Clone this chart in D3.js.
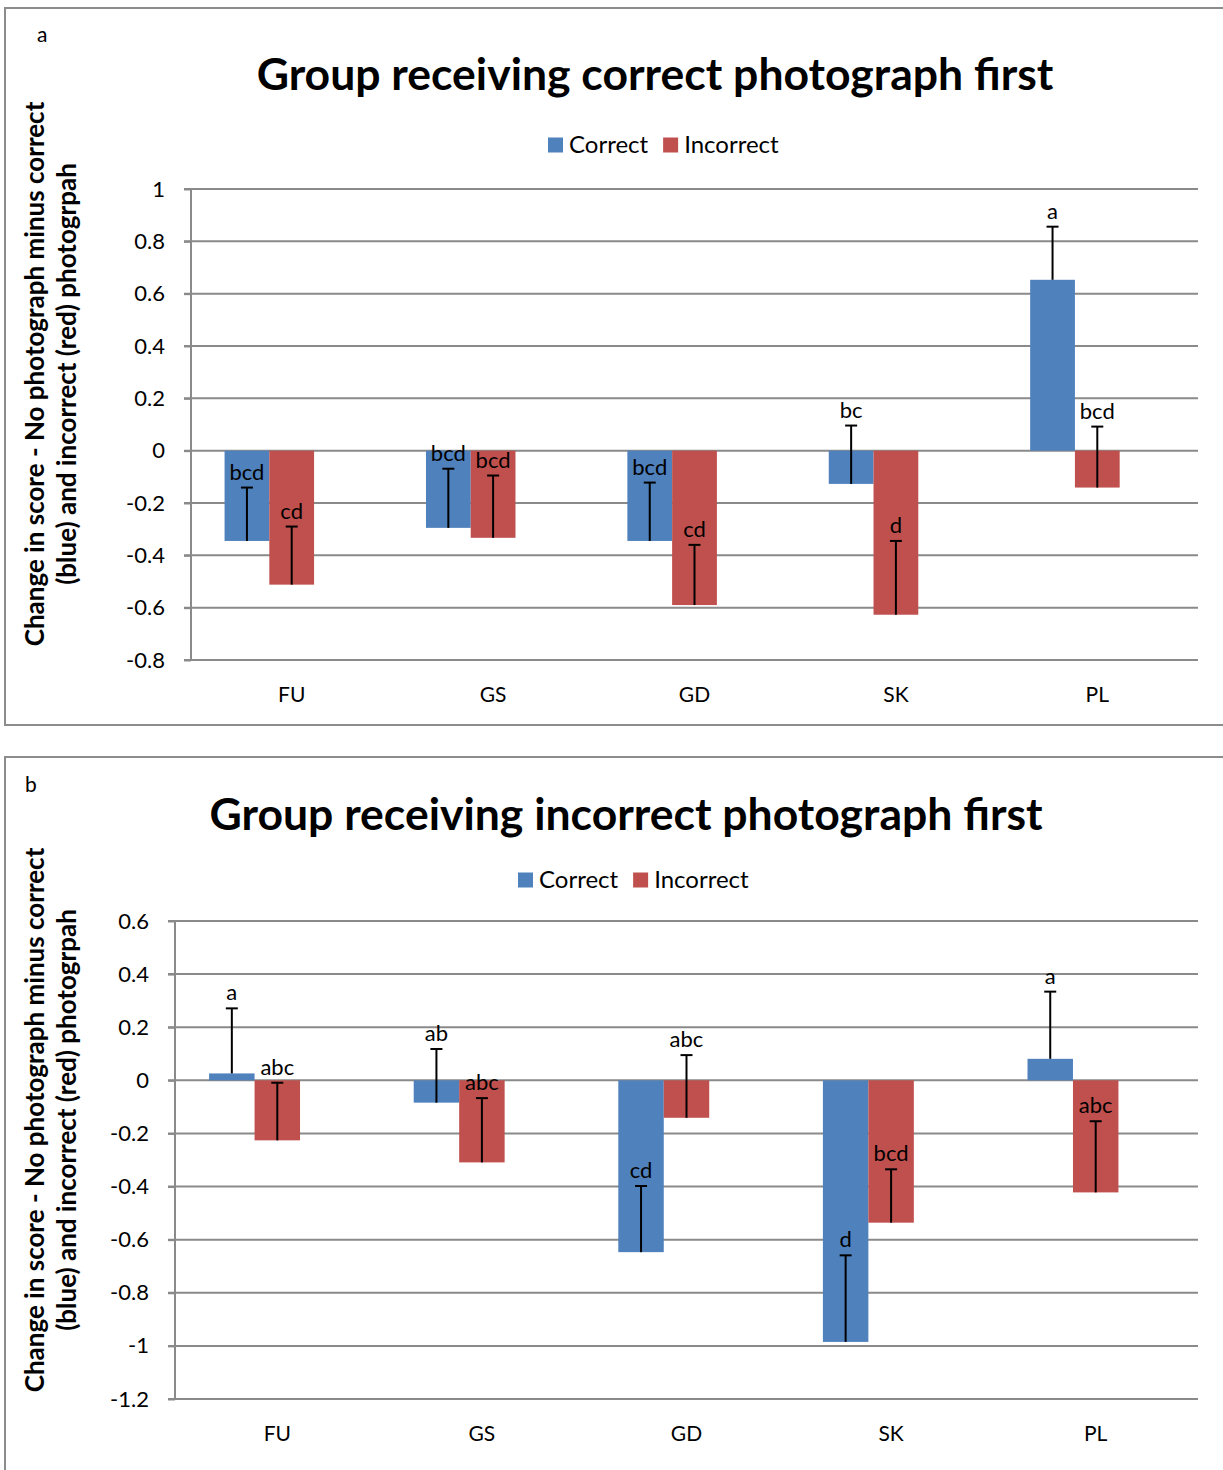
<!DOCTYPE html>
<html>
<head>
<meta charset="utf-8">
<script src="https://cdn.jsdelivr.net/npm/d3@7"></script>
<style>
  html, body { margin: 0; padding: 0; background: #fff; }
  svg { display: block; font-family: Lato, "Open Sans", sans-serif; }
</style>
</head>
<body>
<svg id="chart" width="1223" height="1470"></svg>
<script>
// Categories and series shared by both panels
const categories = ["FU", "GS", "GD", "SK", "PL"];
const seriesNames = ["Correct", "Incorrect"];
const seriesColors = ["#4F81BD", "#C0504D"];

// Panel a: group receiving correct photograph first
const aCorrect = [-0.345, -0.295, -0.345, -0.127, 0.653];
const aCorrectErr = [0.204, 0.226, 0.223, 0.223, 0.203];
const aCorrectLabels = ["bcd", "bcd", "bcd", "bc", "a"];
const aIncorrect = [-0.512, -0.333, -0.590, -0.627, -0.141];
const aIncorrectErr = [0.222, 0.238, 0.230, 0.282, 0.233];
const aIncorrectLabels = ["cd", "bcd", "cd", "d", "bcd"];
const aTicks = [-0.8, -0.6, -0.4, -0.2, 0, 0.2, 0.4, 0.6, 0.8, 1];

// Panel b: group receiving incorrect photograph first
const bCorrect = [0.026, -0.084, -0.647, -0.985, 0.081];
const bCorrectErr = [0.245, 0.202, 0.249, 0.326, 0.253];
const bCorrectLabels = ["a", "ab", "cd", "d", "a"];
const bIncorrect = [-0.226, -0.309, -0.141, -0.536, -0.422];
const bIncorrectErr = [0.217, 0.242, 0.236, 0.201, 0.268];
const bIncorrectLabels = ["abc", "abc", "abc", "bcd", "abc"];
const bTicks = [-1.2, -1, -0.8, -0.6, -0.4, -0.2, 0, 0.2, 0.4, 0.6];

const yTitleLines = ["Change in score - No photograph minus correct",
                     "(blue) and incorrect (red) photogrpah"];

const svg = d3.select("#chart");
const gridColor = "#8a8a8a";

function fmt(v) {
  if (Math.abs(v) < 1e-9) return "0";
  return String(+v.toFixed(1));
}

function drawPanel(p) {
  const g = svg.append("g");

  // frame
  g.append("rect")
    .attr("x", p.frame[0]).attr("y", p.frame[1])
    .attr("width", p.frame[2]).attr("height", p.frame[3])
    .attr("fill", "none").attr("stroke", "#8c8c8c").attr("stroke-width", 2);

  g.append("text").attr("x", p.letterPos[0]).attr("y", p.letterPos[1])
    .attr("font-size", 21).attr("fill", "#000").text(p.letter);

  g.append("text").attr("x", p.titlePos[0]).attr("y", p.titlePos[1])
    .attr("text-anchor", "middle").attr("font-size", 44.5).attr("font-weight", 700)
    .attr("fill", "#000").text(p.title);

  const y = d3.scaleLinear().domain(d3.extent(p.ticks)).range([p.bottom, p.top]);
  const x0 = d3.scaleBand().domain(categories).range([p.left, p.right]).padding(0);
  // three slots per category; the third one is left empty
  const x1 = d3.scaleBand().domain([0, 1, 2]).range([0, x0.bandwidth()])
    .paddingInner(0).paddingOuter(0.75);

  // gridlines
  g.append("g").selectAll("line").data(p.ticks).join("line")
    .attr("x1", p.left - 7).attr("x2", p.right)
    .attr("y1", d => y(d)).attr("y2", d => y(d))
    .attr("stroke", gridColor).attr("stroke-width", 2);

  // y axis
  const yAxis = g.append("g").attr("transform", `translate(${p.left},0)`)
    .call(d3.axisLeft(y).tickValues(p.ticks).tickFormat(fmt).tickSize(7).tickPadding(19));
  yAxis.select(".domain").attr("stroke", gridColor).attr("stroke-width", 2)
    .attr("d", `M0,${p.bottom}V${p.top}`);
  yAxis.selectAll(".tick line").attr("stroke", gridColor).attr("stroke-width", 2);
  yAxis.selectAll(".tick text").attr("font-size", 22).attr("fill", "#000")
    .attr("font-family", "Lato, sans-serif");

  // category labels
  g.append("g").selectAll("text").data(categories).join("text")
    .attr("x", d => x0(d) + x0.bandwidth() / 2).attr("y", p.catY)
    .attr("text-anchor", "middle").attr("font-size", 21).attr("fill", "#000")
    .text(d => d);

  // bars
  const rows = [];
  categories.forEach((c, i) => {
    p.series.forEach((s, j) => {
      rows.push({ cat: c, slot: j, color: seriesColors[j],
                  v: s.values[i], e: s.errs[i], label: s.labels[i] });
    });
  });
  const cxOf = d => x0(d.cat) + x1(d.slot) + x1.bandwidth() / 2;

  g.append("g").selectAll("rect").data(rows).join("rect")
    .attr("x", d => x0(d.cat) + x1(d.slot))
    .attr("width", x1.bandwidth())
    .attr("y", d => y(Math.max(0, d.v)))
    .attr("height", d => Math.abs(y(d.v) - y(0)))
    .attr("fill", d => d.color);

  // error bars (plus direction)
  const eb = g.append("g").attr("stroke", "#000").attr("stroke-width", 2);
  rows.forEach(d => {
    const cx = cxOf(d);
    const yEnd = y(d.v + d.e);
    eb.append("line").attr("x1", cx).attr("x2", cx).attr("y1", y(d.v)).attr("y2", yEnd);
    eb.append("line").attr("x1", cx - 6).attr("x2", cx + 6).attr("y1", yEnd).attr("y2", yEnd);
  });

  // significance letters
  g.append("g").selectAll("text").data(rows).join("text")
    .attr("x", cxOf)
    .attr("y", d => y(d.v + d.e) - 8)
    .attr("text-anchor", "middle").attr("font-size", 22).attr("fill", "#000")
    .text(d => d.label);

  // legend
  const lg = g.append("g").attr("transform", `translate(${p.legendPos[0]},${p.legendPos[1]})`);
  let lx = 0;
  seriesNames.forEach((n, j) => {
    lg.append("rect").attr("x", lx).attr("y", -7.5).attr("width", 15).attr("height", 15)
      .attr("fill", seriesColors[j]);
    const t = lg.append("text").attr("x", lx + 21).attr("y", 8).attr("font-size", 24)
      .attr("fill", "#000").text(n);
    lx += 21 + t.node().getComputedTextLength() + 15;
  });

  // y axis title (two lines)
  yTitleLines.forEach((line, k) => {
    g.append("text")
      .attr("transform", `translate(${p.yTitleX[k]},${p.yTitleY}) rotate(-90)`)
      .attr("text-anchor", "middle").attr("font-size", 26).attr("font-weight", 700)
      .attr("fill", "#000").text(line);
  });
}

drawPanel({
  frame: [5, 8, 1230, 717],
  letter: "a", letterPos: [37, 42],
  title: "Group receiving correct photograph first", titlePos: [655, 90],
  ticks: aTicks, top: 189, bottom: 660, left: 191, right: 1198,
  catY: 702,
  legendPos: [548, 145],
  yTitleX: [44, 76], yTitleY: 374,
  series: [
    { values: aCorrect, errs: aCorrectErr, labels: aCorrectLabels },
    { values: aIncorrect, errs: aIncorrectErr, labels: aIncorrectLabels }
  ]
});

drawPanel({
  frame: [5, 757, 1230, 730],
  letter: "b", letterPos: [25, 792],
  title: "Group receiving incorrect photograph first", titlePos: [626, 830],
  ticks: bTicks, top: 921, bottom: 1399, left: 175, right: 1198,
  catY: 1441,
  legendPos: [518, 880],
  yTitleX: [44, 76], yTitleY: 1120,
  series: [
    { values: bCorrect, errs: bCorrectErr, labels: bCorrectLabels },
    { values: bIncorrect, errs: bIncorrectErr, labels: bIncorrectLabels }
  ]
});
</script>
</body>
</html>
